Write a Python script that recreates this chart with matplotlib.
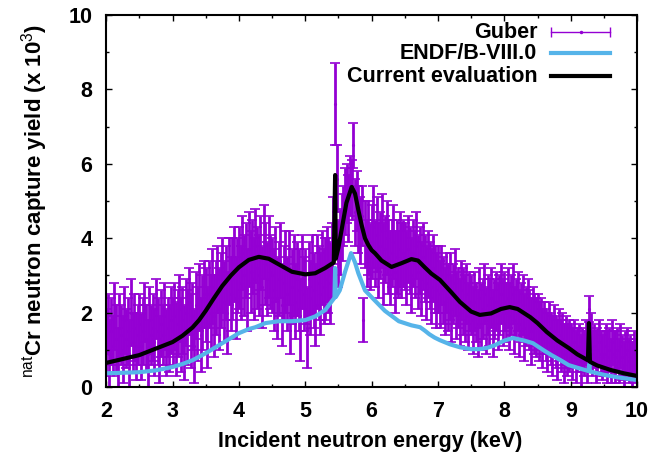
import numpy as np
import matplotlib
matplotlib.use('Agg')
import matplotlib.pyplot as plt

plt.rcParams['font.family'] = ['Liberation Sans', 'DejaVu Sans']
plt.rcParams['mathtext.fontset'] = 'custom'
plt.rcParams['mathtext.rm'] = 'Liberation Sans'

# Guber data, energy grid 2..10 keV every 0.025 keV
guber_e = np.linspace(2.0, 10.0, 321)
guber_y = [
    1.2, 1.7, 0.9, 1.5, 1.1, 1.9, 1.3, 0.8, 1.6, 1.4, 1.0, 1.8, 1.3, 1.5, 0.9, 2.0, 1.2, 1.6, 1.1, 1.4,
    1.7, 1.1, 1.5, 2.0, 1.3, 0.9, 1.8, 1.4, 1.6, 1.2, 2.1, 1.5, 1.0, 1.7, 1.4, 1.9, 1.2, 1.6, 1.3, 1.8,
    1.5, 1.9, 1.3, 1.7, 2.1, 1.4, 1.8, 1.2, 2.0, 1.6, 2.3, 1.5, 1.9, 1.1, 2.2, 1.7, 2.4, 1.4, 2.0, 2.5,
    2.2, 1.6, 2.5, 2.0, 2.7, 1.9, 2.4, 2.9, 2.1, 2.6, 3.0, 2.3, 2.8, 2.0, 3.1, 2.5, 2.9, 3.3, 2.4, 3.0,
    3.2, 2.8, 3.6, 3.0, 3.4, 2.6, 3.7, 3.1, 3.5, 2.9, 3.8, 3.2, 3.0, 3.6, 2.7, 3.9, 3.3, 2.9, 3.5, 3.1,
    3.0, 2.6, 3.3, 2.4, 2.9, 3.4, 2.2, 2.8, 3.1, 2.5, 3.2, 2.0, 2.7, 3.0, 2.3, 2.9, 2.6, 1.8, 3.1, 2.5,
    2.7, 1.6, 2.9, 2.4, 3.0, 2.6, 2.2, 3.1, 2.8, 2.5, 3.2, 2.7, 2.9, 3.3, 3.0, 2.8, 3.4, 4.2, 7.6, 5.6,
    3.6, 3.9, 4.3, 4.6, 5.0, 5.2, 4.8, 5.4, 5.3, 6.5, 4.7, 5.0, 4.5, 4.2, 4.6, 1.8, 4.1, 3.6, 4.0, 3.5,
    3.9, 4.3, 3.6, 4.1, 3.4, 3.8, 4.2, 3.3, 3.7, 4.0, 3.5, 3.2, 3.6, 3.9, 3.1, 3.5, 3.3, 3.7, 3.4, 3.6,
    3.5, 3.2, 3.7, 3.4, 3.0, 3.6, 3.3, 3.8, 3.1, 3.4, 2.9, 3.5, 3.2, 2.8, 3.3, 3.0, 2.7, 3.2, 2.9, 2.6,
    2.9, 2.5, 3.0, 2.6, 2.3, 2.8, 2.4, 2.7, 2.1, 2.5, 2.8, 2.2, 2.4, 2.0, 2.6, 2.3, 2.1, 2.5, 1.9, 2.3,
    2.2, 1.8, 2.3, 2.0, 1.7, 2.4, 1.9, 2.1, 2.5, 1.8, 2.2, 2.0, 2.4, 1.7, 2.1, 2.3, 1.9, 2.2, 2.5, 2.0,
    2.3, 2.0, 2.4, 1.9, 2.2, 2.5, 1.8, 2.1, 2.3, 1.7, 2.0, 2.2, 1.6, 1.9, 2.1, 1.8, 1.5, 1.9, 1.7, 1.6,
    1.8, 1.5, 1.7, 1.3, 1.6, 1.4, 1.2, 1.6, 1.3, 1.1, 1.5, 1.2, 1.0, 1.4, 1.1, 1.3, 0.9, 1.2, 1.0, 1.1,
    1.1, 0.9, 1.2, 0.8, 1.0, 1.1, 0.7, 1.0, 0.9, 1.2, 0.8, 2.1, 1.5, 0.9, 1.1, 0.8, 1.0, 1.2, 0.9, 0.8,
    0.9, 1.1, 0.8, 1.0, 0.7, 1.2, 0.9, 0.8, 1.0, 0.7, 1.1, 0.8, 0.6, 0.9, 1.0, 0.7, 0.8, 0.6, 0.9, 0.7,
    0.6,
]
guber_err = [
    0.9, 0.8, 0.9, 0.9, 0.8, 0.9, 0.9, 0.8, 0.9, 0.8, 0.9, 0.9, 0.8, 0.9, 0.9, 0.9, 0.8, 0.9, 0.9, 0.8,
    0.8, 0.9, 0.9, 0.8, 0.9, 0.9, 0.9, 0.8, 0.9, 0.9, 0.8, 0.9, 0.9, 0.9, 0.8, 0.9, 0.9, 0.8, 0.9, 0.9,
    0.9, 0.9, 1.0, 0.9, 0.9, 1.0, 0.9, 1.0, 0.9, 1.0, 0.9, 1.0, 0.9, 1.0, 0.9, 1.0, 0.9, 1.0, 1.0, 0.9,
    1.0, 1.1, 0.9, 1.0, 1.0, 1.1, 1.0, 0.9, 1.1, 1.0, 1.0, 1.1, 1.0, 1.1, 0.9, 1.0, 1.1, 1.0, 1.1, 1.0,
    1.1, 1.0, 1.0, 1.1, 1.0, 1.1, 1.0, 1.1, 1.0, 1.1, 1.0, 1.1, 1.1, 1.0, 1.1, 1.0, 1.1, 1.0, 1.1, 1.0,
    1.0, 1.1, 1.0, 1.1, 1.0, 1.0, 1.1, 1.0, 1.1, 1.0, 1.0, 1.1, 1.0, 1.1, 1.0, 1.0, 1.1, 1.1, 1.0, 1.0,
    1.0, 1.1, 1.0, 1.0, 1.1, 1.0, 1.1, 1.0, 1.0, 1.1, 1.0, 1.0, 1.1, 1.0, 1.0, 1.1, 1.0, 0.9, 1.1, 0.9,
    0.9, 0.9, 0.9, 0.8, 0.9, 0.8, 0.9, 0.8, 0.8, 0.6, 0.9, 0.8, 0.9, 0.9, 0.8, 0.6, 0.9, 0.9, 1.0, 0.9,
    1.0, 1.1, 0.9, 1.0, 1.0, 0.9, 1.0, 1.1, 0.9, 1.0, 1.0, 1.0, 0.9, 1.0, 1.1, 1.0, 0.9, 1.0, 1.0, 0.9,
    0.9, 1.0, 0.9, 0.9, 1.0, 0.9, 0.9, 0.9, 1.0, 0.9, 1.0, 0.9, 0.9, 1.0, 0.9, 0.9, 1.0, 0.9, 0.9, 1.0,
    0.9, 0.9, 0.8, 0.9, 0.9, 0.8, 0.9, 0.9, 0.9, 0.8, 0.9, 0.9, 0.8, 0.9, 0.8, 0.9, 0.9, 0.8, 0.9, 0.8,
    0.8, 0.9, 0.8, 0.8, 0.9, 0.8, 0.9, 0.8, 0.8, 0.9, 0.8, 0.9, 0.8, 0.9, 0.8, 0.8, 0.9, 0.8, 0.8, 0.9,
    0.8, 0.8, 0.8, 0.9, 0.8, 0.8, 0.9, 0.8, 0.8, 0.9, 0.8, 0.8, 0.9, 0.8, 0.8, 0.8, 0.9, 0.8, 0.8, 0.8,
    0.7, 0.8, 0.7, 0.8, 0.7, 0.7, 0.8, 0.7, 0.7, 0.8, 0.7, 0.7, 0.8, 0.7, 0.7, 0.7, 0.8, 0.7, 0.7, 0.7,
    0.6, 0.7, 0.6, 0.7, 0.6, 0.6, 0.7, 0.6, 0.6, 0.6, 0.7, 0.35, 0.5, 0.6, 0.6, 0.7, 0.6, 0.6, 0.6, 0.6,
    0.6, 0.6, 0.7, 0.6, 0.6, 0.6, 0.6, 0.7, 0.6, 0.6, 0.6, 0.6, 0.6, 0.6, 0.6, 0.6, 0.6, 0.6, 0.6, 0.6,
    0.6,
]

# ENDF/B-VIII.0
endf_e = [2.0, 2.5, 2.75, 3.0, 3.15, 3.3, 3.5, 3.75, 4.0, 4.15, 4.25, 4.4, 4.6, 4.8, 5.0, 5.15,
          5.3, 5.44, 5.45, 5.46, 5.52, 5.6, 5.69, 5.75, 5.8, 5.9, 6.02, 6.2, 6.41, 6.6, 6.73,
          6.8, 6.87, 6.95, 7.03, 7.18, 7.33, 7.5, 7.63, 7.75, 7.85, 8.0, 8.13, 8.3, 8.43, 8.6,
          8.71, 8.85, 8.97, 9.1, 9.27, 9.28, 9.29, 9.5, 9.75, 10.0]
endf_y = [0.37, 0.40, 0.45, 0.54, 0.62, 0.72, 0.91, 1.18, 1.45, 1.56, 1.61, 1.72, 1.77, 1.77, 1.80, 1.90,
          2.07, 2.40, 3.20, 2.42, 2.60, 3.10, 3.60, 3.35, 3.06, 2.60, 2.38, 2.05, 1.77, 1.66, 1.61,
          1.52, 1.42, 1.33, 1.26, 1.15, 1.07, 1.02, 1.02, 1.06, 1.12, 1.25, 1.32, 1.25, 1.18, 0.98,
          0.86, 0.72, 0.59, 0.52, 0.43, 0.62, 0.42, 0.33, 0.25, 0.19]

# Current evaluation
cur_e = [2.0, 2.5, 3.0, 3.15, 3.3, 3.4, 3.5, 3.62, 3.75, 3.88, 4.0, 4.15, 4.3, 4.45, 4.6, 4.8,
         5.0, 5.15, 5.3, 5.43, 5.45, 5.46, 5.5, 5.55, 5.62, 5.7, 5.75, 5.8, 5.85, 5.9, 5.95,
         6.0, 6.05, 6.15, 6.3, 6.45, 6.6, 6.7, 6.8, 6.9, 7.03, 7.2, 7.33, 7.5, 7.63, 7.8, 7.95,
         8.08, 8.2, 8.39, 8.5, 8.64, 8.8, 8.97, 9.1, 9.26, 9.275, 9.29, 9.4, 9.6, 9.8, 10.0]
cur_y = [0.65, 0.86, 1.21, 1.38, 1.60, 1.80, 2.05, 2.38, 2.72, 3.00, 3.22, 3.42, 3.50, 3.45, 3.30, 3.10,
         3.03, 3.06, 3.20, 3.35, 5.70, 3.45, 3.75, 4.25, 4.95, 5.38, 5.20, 4.76, 4.35, 4.00, 3.82,
         3.68, 3.60, 3.40, 3.23, 3.33, 3.44, 3.40, 3.22, 3.05, 2.88, 2.55, 2.29, 2.03, 1.94, 1.98, 2.10,
         2.15, 2.10, 1.88, 1.72, 1.48, 1.25, 1.05, 0.88, 0.72, 1.72, 0.68, 0.58, 0.46, 0.37, 0.30]

purple = '#9400d3'
blue = '#56b4e9'
fs = 15.5

fig = plt.figure(figsize=(6.72, 4.57), dpi=100)
ax = fig.add_axes([0.158, 0.153, 0.790, 0.814])

ax.errorbar(guber_e, guber_y, yerr=guber_err, fmt='.', ms=2.5, color=purple,
            ecolor=purple, elinewidth=2.0, capsize=3.5, capthick=1.2, zorder=1)
ax.plot(endf_e, endf_y, color=blue, lw=3, zorder=2)
ax.plot(cur_e, cur_y, color='black', lw=3, zorder=3)

ax.set_xlim(2, 10)
ax.set_ylim(0, 10)
ax.set_xticks(range(2, 11))
ax.set_yticks(range(0, 11, 2))
ax.set_xticks(np.arange(2.5, 10, 1), minor=True)
ax.set_yticks(range(1, 10, 2), minor=True)
ax.tick_params(which='both', direction='in', top=True, right=True, width=1)
ax.tick_params(which='major', length=4, labelsize=fs, pad=10)
ax.tick_params(which='minor', length=2.5)
for lab in ax.get_xticklabels() + ax.get_yticklabels():
    lab.set_fontweight('bold')
for sp in ax.spines.values():
    sp.set_linewidth(1.5)

ax.set_xlabel('Incident neutron energy (keV)', fontsize=fs, fontweight='bold')
ax.set_ylabel(r'$^{\mathrm{nat}}$Cr neutron capture yield (x 10$^{\mathrm{3}}$)',
              fontsize=16, fontweight='bold')
ax.xaxis.set_label_coords(0.497, -0.118)
ax.yaxis.set_label_coords(-0.105, 0.5)

# gnuplot-like key
tx, x0, x1 = 0.812, 0.838, 0.949
rows = [('Guber', 0.954), ('ENDF/B-VIII.0', 0.898), ('Current evaluation', 0.836)]
for name, yy in rows:
    ax.text(tx, yy, name, transform=ax.transAxes, ha='right', va='center',
            fontsize=fs, fontweight='bold')
yg = rows[0][1]
ax.plot([x0, x1], [yg, yg], color=purple, lw=1, transform=ax.transAxes)
ax.plot([x0, x1], [yg, yg], ls='none', marker='|', ms=7, mew=1, color=purple,
        transform=ax.transAxes)
ax.plot([(x0 + x1) / 2], [yg], marker='.', ms=3, color=purple, transform=ax.transAxes)
ax.plot([x0, x1], [rows[1][1]] * 2, color=blue, lw=3, transform=ax.transAxes)
ax.plot([x0, x1], [rows[2][1]] * 2, color='black', lw=3, transform=ax.transAxes)

fig.savefig('out.png', dpi=100)
